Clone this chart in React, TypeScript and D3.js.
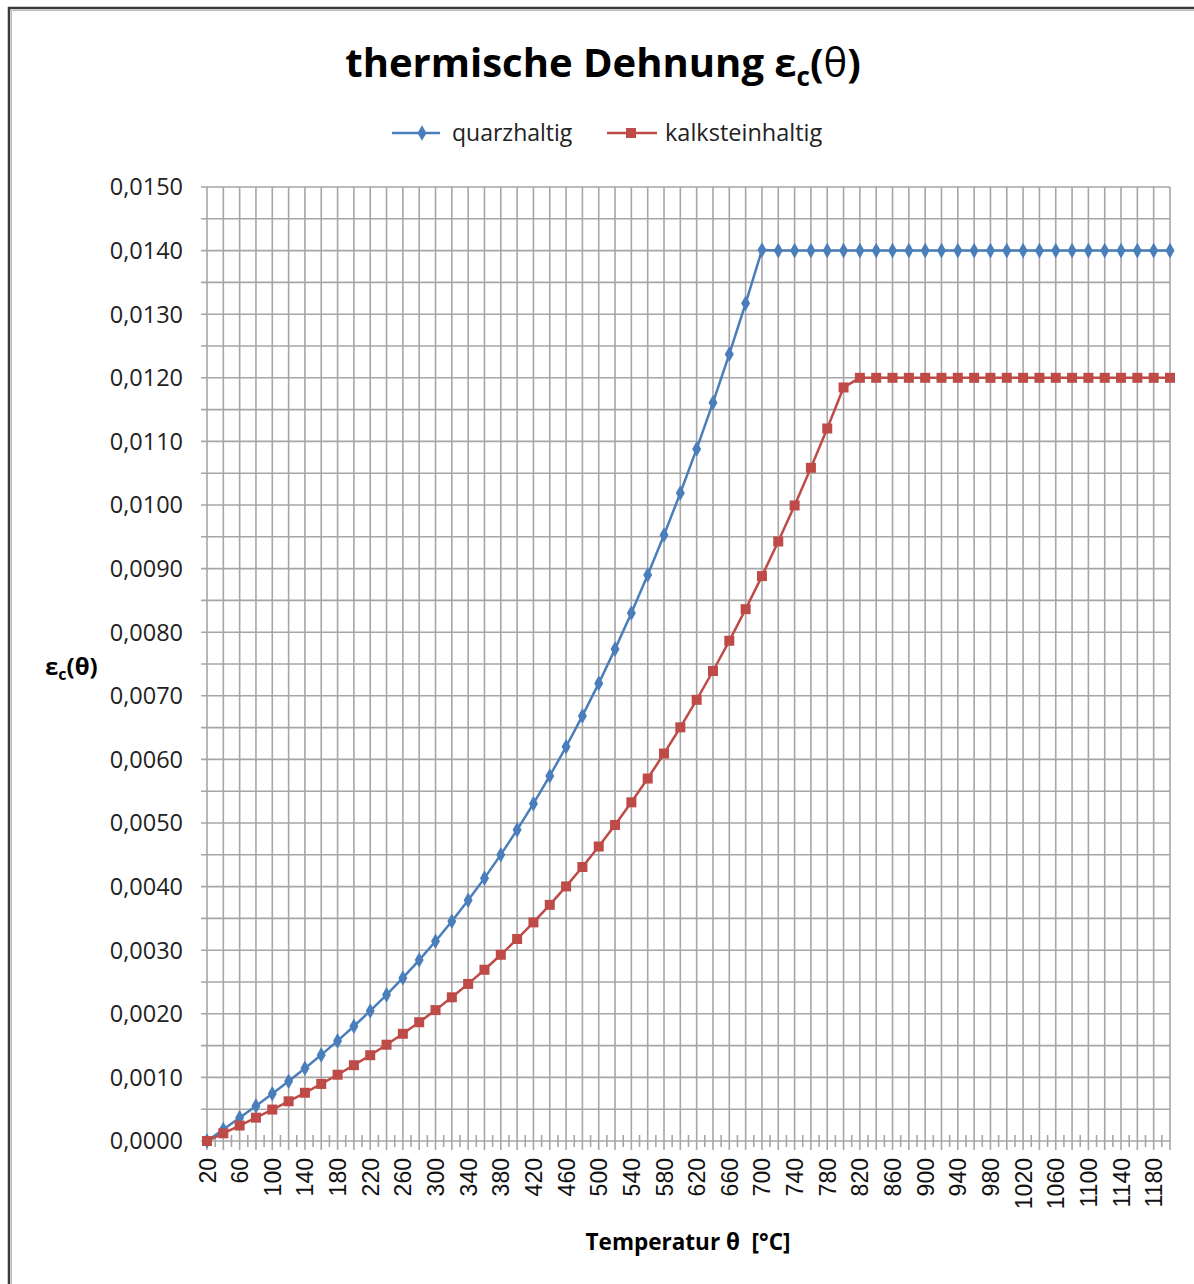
import React, { useEffect, useRef } from 'react'
import * as d3 from 'd3'

// Temperatur θ [°C]
const temps = [20, 40, 60, 80, 100, 120, 140, 160, 180, 200, 220, 240, 260, 280, 300, 320, 340, 360, 380, 400,
    420, 440, 460, 480, 500, 520, 540, 560, 580, 600, 620, 640, 660, 680, 700, 720, 740, 760, 780, 800,
    820, 840, 860, 880, 900, 920, 940, 960, 980, 1000, 1020, 1040, 1060, 1080, 1100, 1120, 1140, 1160, 1180, 1200]

const quarzhaltig = [0.0000, 0.000181, 0.000365, 0.000552, 0.000743, 0.00094, 0.001143, 0.001354, 0.001574, 0.001804,
    0.002045, 0.002298, 0.002564, 0.002845, 0.003141, 0.003454, 0.003784, 0.004133, 0.004502, 0.004892,
    0.005304, 0.005739, 0.006199, 0.006684, 0.007195, 0.007734, 0.008302, 0.008899, 0.009528, 0.010188,
    0.010882, 0.011609, 0.012372, 0.013172, 0.014009, 0.014, 0.014, 0.014, 0.014, 0.014,
    0.014, 0.014, 0.014, 0.014, 0.014, 0.014, 0.014, 0.014, 0.014, 0.014,
    0.014, 0.014, 0.014, 0.014, 0.014, 0.014, 0.014, 0.014, 0.014, 0.014]

const kalksteinhaltig = [0.0000, 0.000121, 0.000243, 0.000367, 0.000494, 0.000624, 0.000758, 0.000897, 0.001042, 0.001192,
    0.001349, 0.001514, 0.001686, 0.001867, 0.002058, 0.002259, 0.00247, 0.002693, 0.002928, 0.003176,
    0.003437, 0.003713, 0.004003, 0.004308, 0.00463, 0.004969, 0.005325, 0.005699, 0.006092, 0.006504,
    0.006937, 0.00739, 0.007865, 0.008362, 0.008882, 0.009426, 0.009993, 0.010585, 0.011203, 0.011848,
    0.012, 0.012, 0.012, 0.012, 0.012, 0.012, 0.012, 0.012, 0.012, 0.012,
    0.012, 0.012, 0.012, 0.012, 0.012, 0.012, 0.012, 0.012, 0.012, 0.012]

const yTicks = [0, 0.001, 0.002, 0.003, 0.004, 0.005, 0.006, 0.007, 0.008, 0.009, 0.01, 0.011, 0.012, 0.013, 0.014, 0.015]

export default function App() {
    const ref = useRef<SVGSVGElement | null>(null)

    const width = 1194
    const height = 1284
    const left = 207, right = 1170, top = 187, bottom = 1141
    const blue = '#4a7ebb'
    const red = '#be4b48'
    const grid = '#a6a6a6'
    const sans = "'Open Sans', sans-serif"

    function drawChart() {
        const svg = d3.select(ref.current)
        svg.selectAll('*').remove()

        // frame
        svg.append('rect').attr('x', 0).attr('y', 0).attr('width', width).attr('height', height).attr('fill', '#fff')
        svg.append('path').attr('d', `M9,${height} V8 H${width}`).attr('fill', 'none').attr('stroke', '#3a3a3a').attr('stroke-width', 2.5)
        svg.append('path').attr('d', `M11.5,${height} V10.5 H${width}`).attr('fill', 'none').attr('stroke', '#bdbdbd').attr('stroke-width', 1)

        const x = d3.scalePoint<number>().domain(temps).range([left, right])
        const y = d3.scaleLinear().domain([0, 0.015]).range([bottom, top])

        const g = svg.append('g')

        // horizontal gridlines (major + minor every 0.0005)
        const hLines = d3.range(0, 0.01501, 0.0005)
        g.selectAll('.hgrid').data(hLines).enter().append('line')
            .attr('x1', left - 6).attr('x2', right)
            .attr('y1', d => y(d)).attr('y2', d => y(d))
            .attr('stroke', grid).attr('stroke-width', 1.6)

        // vertical gridlines per category
        g.selectAll('.vgrid').data(temps).enter().append('line')
            .attr('x1', d => x(d)!).attr('x2', d => x(d)!)
            .attr('y1', top).attr('y2', bottom + 9)
            .attr('stroke', grid).attr('stroke-width', 1.6)

        // minor ticks between categories
        const step = x.step()
        g.selectAll('.mtick').data(temps.slice(0, -1)).enter().append('line')
            .attr('x1', d => x(d)! + step / 2).attr('x2', d => x(d)! + step / 2)
            .attr('y1', bottom - 6).attr('y2', bottom + 6)
            .attr('stroke', grid).attr('stroke-width', 1.6)

        // y labels
        const fmt = d3.format('.4f')
        g.selectAll('.ylab').data(yTicks).enter().append('text')
            .attr('x', 183).attr('y', d => y(d))
            .attr('dy', '0.36em')
            .attr('text-anchor', 'end')
            .style('font-family', sans).style('font-size', '23.5px').attr('fill', '#222')
            .text(d => fmt(d).replace('.', ','))

        // x labels (every second category)
        g.selectAll('.xlab').data(temps.filter((d, i) => i % 2 === 0)).enter().append('text')
            .attr('transform', d => `translate(${x(d)! + 8.5},1158) rotate(-90)`)
            .attr('text-anchor', 'end')
            .style('font-family', "'Liberation Sans', Arial, sans-serif").style('font-size', '23px').attr('fill', '#111')
            .text(d => d)

        // lines
        const line = d3.line<number>().x((d, i) => x(temps[i])!).y(d => y(d))
        g.append('path').datum(quarzhaltig).attr('d', line).attr('fill', 'none').attr('stroke', blue).attr('stroke-width', 2.5)
        g.append('path').datum(kalksteinhaltig).attr('d', line).attr('fill', 'none').attr('stroke', red).attr('stroke-width', 2.5)

        const diamond = d3.symbol().type(d3.symbolDiamond).size(70)
        g.selectAll('.qm').data(quarzhaltig).enter().append('path')
            .attr('d', diamond)
            .attr('transform', (d, i) => `translate(${x(temps[i])},${y(d)})`)
            .attr('fill', blue)
        g.selectAll('.km').data(kalksteinhaltig).enter().append('rect')
            .attr('x', (d, i) => x(temps[i])! - 5).attr('y', d => y(d) - 5)
            .attr('width', 10).attr('height', 10)
            .attr('fill', red)

        // title
        const title = svg.append('text').attr('x', 603).attr('y', 77).attr('text-anchor', 'middle')
            .style('font-family', sans).style('font-size', '40px').style('font-weight', 'bold').attr('fill', '#000')
        title.append('tspan').text('thermische Dehnung ε')
        title.append('tspan').attr('dy', 9).style('font-size', '26px').text('c')
        title.append('tspan').attr('dy', -9).text('(')
        title.append('tspan').style('font-weight', 'normal').text('θ')
        title.append('tspan').text(')')

        // legend
        const lg = svg.append('g').attr('transform', 'translate(0,133)')
        lg.append('line').attr('x1', 392).attr('x2', 440).attr('stroke', blue).attr('stroke-width', 2.5)
        lg.append('path').attr('d', diamond).attr('transform', 'translate(422,0)').attr('fill', blue)
        lg.append('text').attr('x', 452).attr('dy', '0.35em').style('font-family', sans).style('font-size', '23px').attr('fill', '#222').text('quarzhaltig')
        lg.append('line').attr('x1', 607).attr('x2', 657).attr('stroke', red).attr('stroke-width', 2.5)
        lg.append('rect').attr('x', 626).attr('y', -5).attr('width', 10).attr('height', 10).attr('fill', red)
        lg.append('text').attr('x', 665).attr('dy', '0.35em').style('font-family', sans).style('font-size', '23.5px').attr('fill', '#222').text('kalksteinhaltig')

        // axis titles
        const xt = svg.append('text').attr('x', 688).attr('y', 1250).attr('text-anchor', 'middle')
            .style('font-family', sans).style('font-size', '22.5px').style('font-weight', 'bold').attr('fill', '#000')
        xt.text('Temperatur θ  [°C]').attr('xml:space', 'preserve')

        const yt = svg.append('text').attr('x', 45).attr('y', 675)
            .style('font-family', sans).style('font-size', '24px').style('font-weight', 'bold').attr('fill', '#000')
        yt.append('tspan').text('ε')
        yt.append('tspan').attr('dy', 5).style('font-size', '16px').text('c')
        yt.append('tspan').attr('dy', -5).text('(θ)')
    }

    useEffect(() => {
        drawChart()
    }, [])

    return (
        <div>
            <svg ref={ref} width={width} height={height} style={{ position: 'absolute', left: 0, top: 0 }} />
        </div>
    )
}
